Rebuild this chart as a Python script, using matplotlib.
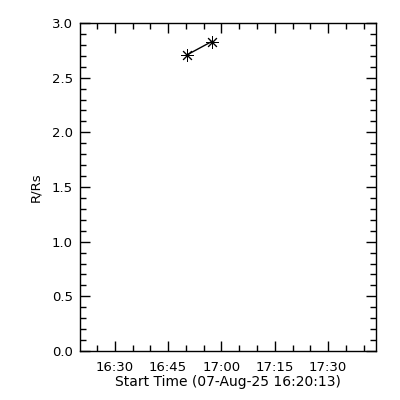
import matplotlib
matplotlib.use('Agg')
import matplotlib.pyplot as plt
from matplotlib.ticker import MultipleLocator, FixedLocator, FuncFormatter

# seconds after start time 16:20:13
start_sec = 16 * 3600 + 20 * 60 + 13
t_sec = [1811, 2222]
r_rs = [2.71, 2.83]

xtick_labels = ['16:30', '16:45', '17:00', '17:15', '17:30']

def hhmm_to_rel(s):
    h, m = s.split(':')
    return int(h) * 3600 + int(m) * 60 - start_sec

major_x = [hhmm_to_rel(s) for s in xtick_labels]
minor_x = [major_x[0] - 600 + 300 * i for i in range(18)]

fig = plt.figure(figsize=(4, 4), dpi=100, facecolor='white')
ax = fig.add_axes([0.2, 0.1225, 0.74, 0.82])

ax.plot(t_sec, r_rs, color='black', lw=1, marker=(8, 2, 0), ms=9, mew=0.7)

ax.set_xlim(0, 4995)
ax.set_ylim(0, 3.0)
ax.xaxis.set_major_locator(FixedLocator(major_x))
ax.xaxis.set_major_formatter(FuncFormatter(lambda v, p: xtick_labels[major_x.index(int(round(v)))] if int(round(v)) in major_x else ''))
ax.xaxis.set_minor_locator(FixedLocator([m for m in minor_x if m not in major_x and 0 < m < 4995]))
ax.yaxis.set_major_locator(MultipleLocator(0.5))
ax.yaxis.set_minor_locator(MultipleLocator(0.1))
ax.yaxis.set_major_formatter(FuncFormatter(lambda v, p: f'{v:.1f}'))

ax.tick_params(which='both', direction='in', top=True, right=True, width=1, labelsize=9.5, colors='black')
ax.tick_params(which='major', length=7, pad=5)
ax.tick_params(axis='x', which='major', pad=7)
ax.tick_params(which='minor', length=4)
for sp in ax.spines.values():
    sp.set_linewidth(1)

ax.set_xlabel('Start Time (07-Aug-25 16:20:13)', fontsize=10, labelpad=1)
ax.set_ylabel('R/Rs', fontsize=9.5, labelpad=7)

fig.savefig('out.png', dpi=100, facecolor='white')
